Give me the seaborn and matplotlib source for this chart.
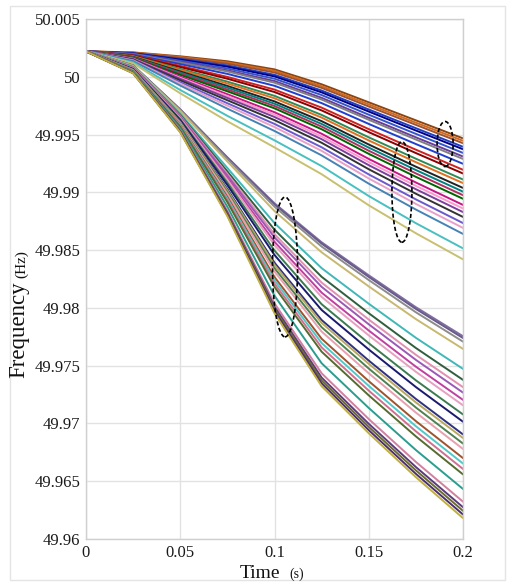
import matplotlib
matplotlib.use("Agg")
import matplotlib.pyplot as plt
from matplotlib.patches import Ellipse, Rectangle
import seaborn as sns
import pandas as pd

# ---- data -----------------------------------------------------------
time_s = [0.0, 0.025, 0.05, 0.075, 0.1, 0.125, 0.15, 0.175, 0.2]

# upper bundle (top to bottom at t = 0.2)
u01 = [50.00220, 50.00211, 50.00177, 50.00134, 50.00064, 49.99935, 49.99779, 49.99623, 49.99467]
u02 = [50.00220, 50.00209, 50.00171, 50.00124, 50.00051, 49.99919, 49.99761, 49.99603, 49.99446]
u03 = [50.00220, 50.00207, 50.00164, 50.00113, 50.00037, 49.99904, 49.99743, 49.99584, 49.99425]
u04 = [50.00220, 50.00204, 50.00155, 50.00098, 50.00017, 49.99881, 49.99717, 49.99555, 49.99394]
u05 = [50.00220, 50.00202, 50.00148, 50.00087, 50.00003, 49.99865, 49.99699, 49.99535, 49.99373]
u06 = [50.00220, 50.00200, 50.00139, 50.00072, 49.99983, 49.99842, 49.99672, 49.99506, 49.99341]
u07 = [50.00220, 50.00197, 50.00129, 50.00056, 49.99963, 49.99818, 49.99645, 49.99476, 49.99310]
u08 = [50.00220, 50.00195, 50.00123, 50.00046, 49.99949, 49.99803, 49.99628, 49.99457, 49.99289]
u09 = [50.00220, 50.00191, 50.00110, 50.00025, 49.99922, 49.99772, 49.99592, 49.99418, 49.99247]
u10 = [50.00220, 50.00186, 50.00094, 49.99999, 49.99889, 49.99733, 49.99547, 49.99369, 49.99195]
u11 = [50.00220, 50.00183, 50.00084, 49.99983, 49.99868, 49.99709, 49.99521, 49.99340, 49.99163]
u12 = [50.00220, 50.00179, 50.00068, 49.99958, 49.99835, 49.99670, 49.99476, 49.99291, 49.99111]
u13 = [50.00220, 50.00176, 50.00059, 49.99942, 49.99814, 49.99647, 49.99449, 49.99261, 49.99080]
u14 = [50.00220, 50.00172, 50.00046, 49.99921, 49.99787, 49.99616, 49.99414, 49.99222, 49.99038]
u15 = [50.00220, 50.00169, 50.00036, 49.99906, 49.99767, 49.99592, 49.99387, 49.99193, 49.99006]
u16 = [50.00220, 50.00166, 50.00027, 49.99890, 49.99747, 49.99569, 49.99360, 49.99164, 49.98975]
u17 = [50.00220, 50.00163, 50.00017, 49.99874, 49.99727, 49.99546, 49.99333, 49.99134, 49.98944]
u18 = [50.00220, 50.00159, 50.00001, 49.99849, 49.99693, 49.99507, 49.99289, 49.99085, 49.98891]
u19 = [50.00220, 50.00156, 49.99991, 49.99833, 49.99673, 49.99483, 49.99262, 49.99056, 49.98860]
u20 = [50.00220, 50.00153, 49.99982, 49.99817, 49.99652, 49.99460, 49.99235, 49.99027, 49.98829]
u21 = [50.00220, 50.00149, 49.99969, 49.99797, 49.99625, 49.99429, 49.99200, 49.98988, 49.98787]
u22 = [50.00220, 50.00144, 49.99953, 49.99771, 49.99592, 49.99390, 49.99155, 49.98939, 49.98734]
u23 = [50.00220, 50.00141, 49.99940, 49.99750, 49.99565, 49.99359, 49.99120, 49.98900, 49.98692]
u24 = [50.00220, 50.00136, 49.99924, 49.99724, 49.99531, 49.99320, 49.99075, 49.98851, 49.98640]
u25 = [50.00220, 50.00124, 49.99886, 49.99662, 49.99450, 49.99227, 49.98968, 49.98733, 49.98515]
u26 = [50.00220, 50.00116, 49.99857, 49.99615, 49.99389, 49.99157, 49.98888, 49.98646, 49.98420]

# lower bundle (top to bottom at t = 0.2)
l01 = [50.00220, 50.00099, 49.99718, 49.99303, 49.98905, 49.98568, 49.98282, 49.98006, 49.97755]
l02 = [50.00220, 50.00098, 49.99716, 49.99298, 49.98895, 49.98556, 49.98268, 49.97991, 49.97739]
l03 = [50.00220, 50.00097, 49.99712, 49.99288, 49.98876, 49.98531, 49.98241, 49.97962, 49.97708]
l04 = [50.00220, 50.00094, 49.99704, 49.99267, 49.98838, 49.98481, 49.98186, 49.97903, 49.97645]
l05 = [50.00220, 50.00087, 49.99682, 49.99211, 49.98734, 49.98344, 49.98036, 49.97741, 49.97472]
l06 = [50.00220, 50.00082, 49.99670, 49.99181, 49.98677, 49.98269, 49.97954, 49.97653, 49.97377]
l07 = [50.00220, 50.00080, 49.99662, 49.99160, 49.98638, 49.98219, 49.97899, 49.97594, 49.97314]
l08 = [50.00220, 50.00078, 49.99656, 49.99145, 49.98610, 49.98182, 49.97858, 49.97550, 49.97267]
l09 = [50.00220, 50.00075, 49.99648, 49.99124, 49.98572, 49.98132, 49.97804, 49.97491, 49.97204]
l10 = [50.00220, 50.00073, 49.99642, 49.99109, 49.98543, 49.98095, 49.97762, 49.97447, 49.97157]
l11 = [50.00220, 50.00069, 49.99632, 49.99084, 49.98496, 49.98032, 49.97694, 49.97373, 49.97078]
l12 = [50.00220, 50.00067, 49.99624, 49.99063, 49.98458, 49.97982, 49.97640, 49.97315, 49.97015]
l13 = [50.00220, 50.00062, 49.99611, 49.99028, 49.98391, 49.97895, 49.97544, 49.97212, 49.96905]
l14 = [50.00220, 50.00060, 49.99607, 49.99017, 49.98372, 49.97870, 49.97516, 49.97182, 49.96874]
l15 = [50.00220, 50.00058, 49.99601, 49.99002, 49.98343, 49.97833, 49.97475, 49.97138, 49.96826]
l16 = [50.00220, 50.00056, 49.99595, 49.98987, 49.98315, 49.97795, 49.97434, 49.97094, 49.96779]
l17 = [50.00220, 50.00053, 49.99585, 49.98961, 49.98267, 49.97733, 49.97366, 49.97020, 49.96700]
l18 = [50.00220, 50.00051, 49.99579, 49.98946, 49.98239, 49.97696, 49.97325, 49.96976, 49.96653]
l19 = [50.00220, 50.00049, 49.99573, 49.98931, 49.98210, 49.97658, 49.97284, 49.96932, 49.96606]
l20 = [50.00220, 50.00047, 49.99567, 49.98915, 49.98181, 49.97621, 49.97243, 49.96888, 49.96559]
l21 = [50.00220, 50.00041, 49.99551, 49.98875, 49.98105, 49.97521, 49.97134, 49.96770, 49.96433]
l22 = [50.00220, 50.00036, 49.99537, 49.98839, 49.98039, 49.97434, 49.97038, 49.96667, 49.96323]
l23 = [50.00220, 50.00034, 49.99531, 49.98824, 49.98010, 49.97397, 49.96997, 49.96623, 49.96275]
l24 = [50.00220, 50.00033, 49.99527, 49.98813, 49.97991, 49.97372, 49.96970, 49.96594, 49.96244]
l25 = [50.00220, 50.00031, 49.99523, 49.98803, 49.97972, 49.97347, 49.96942, 49.96564, 49.96212]
l26 = [50.00220, 50.00030, 49.99519, 49.98793, 49.97953, 49.97322, 49.96915, 49.96535, 49.96181]

upper_colors = ['#8B4513', '#D2691E', '#A0522D', '#1f3fbf', '#00008B', '#3355cc',
                '#6a3d9a', '#808080', '#2040d0', '#cc2222', '#8b0000', '#2e8b57',
                '#e07020', '#222222', '#008080', '#b03060', '#006400', '#c71585',
                '#ff99cc', '#7b3f9e', '#333333', '#6a5acd', '#e8a0c8', '#4682b4',
                '#48c0c0', '#c8c070']
lower_colors = ['#7f6fa0', '#6a5a8c', '#8c8c8c', '#c8b870', '#40b8b8', '#2f5f3f',
                '#e090b0', '#9b59b6', '#c040a0', '#e6a0c0', '#3c7a50', '#1a1a6e',
                '#303080', '#b8a860', '#4e8050', '#e8a0b0', '#a0522d', '#50c8c8',
                '#d07090', '#556b2f', '#2a9d8f', '#d080a0', '#5b3a7a', '#6b6b2f',
                '#4b2e6e', '#c0b040']

x_ticks = [0, 0.05, 0.1, 0.15, 0.2]
x_tick_labels = ['0', '0.05', '0.1', '0.15', '0.2']
y_ticks = [49.96, 49.965, 49.97, 49.975, 49.98, 49.985, 49.99, 49.995, 50.0, 50.005]
y_tick_labels = ['49.96', '49.965', '49.97', '49.975', '49.98', '49.985',
                 '49.99', '49.995', '50', '50.005']

# dashed ellipse annotations: (centre t, centre f, width t, height f)
ellipses = [(0.1056, 49.98354, 0.0133, 0.0121),
            (0.1676, 49.99003, 0.0106, 0.0087),
            (0.1905, 49.99418, 0.0085, 0.0039)]

upper = [u01, u02, u03, u04, u05, u06, u07, u08, u09, u10, u11, u12, u13,
         u14, u15, u16, u17, u18, u19, u20, u21, u22, u23, u24, u25, u26]
lower = [l01, l02, l03, l04, l05, l06, l07, l08, l09, l10, l11, l12, l13,
         l14, l15, l16, l17, l18, l19, l20, l21, l22, l23, l24, l25, l26]

rows = []
palette = {}
for name, curves, cols in (("U", upper, upper_colors), ("L", lower, lower_colors)):
    for i, (c, col) in enumerate(zip(curves, cols)):
        key = f"{name}{i:02d}"
        palette[key] = col
        for t, f in zip(time_s, c):
            rows.append({"time": t, "freq": f, "curve": key})
df = pd.DataFrame(rows)

# ---- plot -----------------------------------------------------------
sns.set_style("white")
plt.rcParams['font.family'] = ['Liberation Serif', 'DejaVu Serif']

fig = plt.figure(figsize=(5.12, 5.83), dpi=100)
ax = fig.add_axes([86/512, 44/583, 377/512, 520/583])

sns.lineplot(data=df, x="time", y="freq", hue="curve", palette=palette,
             legend=False, linewidth=1.4, ax=ax, sort=False, estimator=None)

for (cx, cy, w, h) in ellipses:
    ax.add_patch(Ellipse((cx, cy), w, h, fill=False, edgecolor='black',
                         linestyle=(0, (2.5, 1.5)), linewidth=1.2, zorder=5))

ax.set_xlim(0, 0.2)
ax.set_ylim(49.96, 50.005)
ax.set_xticks(x_ticks)
ax.set_xticklabels(x_tick_labels)
ax.set_yticks(y_ticks)
ax.set_yticklabels(y_tick_labels)
ax.tick_params(axis='both', length=0, labelsize=12, colors='#1a1a1a', pad=4)
ax.grid(True, color='#e2e2e2', linewidth=1.0)
ax.set_axisbelow(True)
for s in ax.spines.values():
    s.set_color('#cfcfcf')
    s.set_linewidth(1.0)
ax.set_xlabel('')
ax.set_ylabel('')

# axis titles (unit in smaller type)
fig.text(240/512, 1 - 578/583, 'Time', fontsize=14, ha='left', va='baseline', color='#111111')
fig.text(289/512, 1 - 578/583, '(s)', fontsize=10, ha='left', va='baseline', color='#111111')
fig.text(29/512, 1 - 378/583, 'Frequency', fontsize=16.5, rotation=90,
         ha='right', va='bottom', color='#111111')
fig.text(28/512, 1 - 278/583, '(Hz)', fontsize=11, rotation=90,
         ha='right', va='bottom', color='#111111')

# light frame around the picture
fig.patches.append(Rectangle((10/512, 3/583), 495/512, 574/583, transform=fig.transFigure,
                             fill=False, edgecolor='#e4e4e4', linewidth=1.0))

fig.savefig("out.png", dpi=100)
